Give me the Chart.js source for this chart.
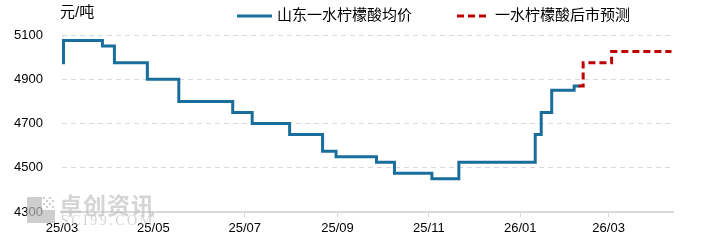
<!DOCTYPE html>
<html><head><meta charset="utf-8">
<script src="https://cdn.jsdelivr.net/npm/chart.js@4.4.1/dist/chart.umd.min.js"></script>
<style>html,body{margin:0;padding:0;background:#fff;}#wrap{width:701px;height:251px;position:relative;}</style>
</head><body><div id="wrap"><canvas id="c" width="701" height="251"></canvas></div>
<script>
// ---- data ----
const baseDate = '2025-03-01';
const xEndDate = '2026-04-13';
const tickDates = ['2025-03-01','2025-05-01','2025-07-01','2025-09-01','2025-11-01','2026-01-01','2026-03-01'];
const tickLabels = ['25/03','25/05','25/07','25/09','25/11','26/01','26/03'];
const seriesNames = ['山东一水柠檬酸均价','一水柠檬酸后市预测'];
const yUnit = '元/吨';
const priceDates = ['2025-03-01','2025-03-02','2025-03-28','2025-04-05','2025-04-27','2025-05-18','2025-06-23','2025-07-06','2025-07-31','2025-08-22','2025-08-31','2025-09-27','2025-10-09','2025-11-03','2025-11-21','2026-01-11','2026-01-15','2026-01-22','2026-02-06','2026-02-10'];
const priceValues = [4975,5075,5050,4975,4900,4800,4750,4700,4650,4575,4550,4525,4475,4450,4525,4650,4750,4850,4870,4870];
const forecastDates = ['2026-02-09','2026-02-12','2026-03-03','2026-04-12'];
const forecastValues = [4870,4975,5025,5025];
const watermarkCn = '卓创资讯';
const watermarkEn = 'SCI99.COM';

const FAMILY = '"Liberation Sans", "Noto Sans CJK SC", sans-serif';
const dayOf = d => (Date.parse(d) - Date.parse(baseDate)) / 86400000;
const toPts = (ds, vs) => ds.map((d, i) => ({x: dayOf(d), y: vs[i]}));
const COLORS = ['#1a6e9b', '#c00000'];

const overlay = {
  id: 'overlay',
  afterDraw(chart) {
    const c = chart.ctx;
    c.save();
    // watermark
    c.fillStyle = 'rgba(185,185,185,0.7)';
    c.fillRect(27, 197, 15, 26);
    c.fillRect(42, 210, 13, 13);
    for (let i = 0; i < 4; i++) for (let j = 0; j < 4; j++) {
      if ((i + j) % 2 === 0) c.fillRect(43 + i * 3, 197 + j * 3, 2, 2);
    }
    c.fillStyle = 'rgba(190,190,190,0.65)';
    c.textBaseline = 'alphabetic';
    c.textAlign = 'left';
    c.font = 'bold 23px "Noto Sans CJK SC", sans-serif';
    c.letterSpacing = '1px';
    c.fillText(watermarkCn, 59, 214);
    c.font = '14px "Liberation Serif", serif';
    c.letterSpacing = '2.5px';
    c.fillText(watermarkEn, 61, 225);
    c.letterSpacing = '0px';
    // unit label
    c.fillStyle = '#000';
    c.textBaseline = 'middle';
    c.font = '15px ' + FAMILY;
    c.fillText(yUnit, 60, 13);
    // legend
    const items = [{x0: 237, x1: 272, tx: 277}, {x0: 457, x1: 488, tx: 495}];
    const ly = 16;
    chart.data.datasets.forEach((ds, i) => {
      const it = items[i];
      c.beginPath();
      c.strokeStyle = ds.borderColor;
      c.lineWidth = 3;
      c.setLineDash(ds.borderDash || []);
      c.moveTo(it.x0, ly); c.lineTo(it.x1, ly);
      c.stroke();
      c.setLineDash([]);
      c.fillStyle = '#000';
      c.fillText(ds.label, it.tx, ly);
    });
    c.restore();
  }
};

new Chart(document.getElementById('c'), {
  type: 'line',
  data: {
    datasets: [
      {label: seriesNames[0], data: toPts(priceDates, priceValues), borderColor: COLORS[0], borderWidth: 3,
       stepped: 'before', pointRadius: 0, fill: false, order: 1},
      {label: seriesNames[1], data: toPts(forecastDates, forecastValues), borderColor: COLORS[1], borderWidth: 3,
       borderDash: [7, 4], stepped: 'before', pointRadius: 0, fill: false, order: 0}
    ]
  },
  options: {
    responsive: false, animation: false, devicePixelRatio: 1,
    layout: {padding: {top: 35, right: 28, left: 0, bottom: 0}},
    plugins: {legend: {display: false}, tooltip: {enabled: false}},
    scales: {
      x: {
        type: 'linear', min: 0, max: dayOf(xEndDate),
        afterBuildTicks: s => { s.ticks = tickDates.map(d => ({value: dayOf(d)})); },
        afterFit: s => { s.height = 39; },
        ticks: {callback: (v, i) => tickLabels[i], color: '#000', font: {size: 13, family: FAMILY}, padding: 4, maxRotation: 0, autoSkip: false},
        grid: {drawOnChartArea: false, drawTicks: true, tickLength: 5, color: '#d9d9d9'},
        border: {display: true, color: '#d9d9d9', width: 2}
      },
      y: {
        min: 4300, max: 5100,
        afterFit: s => { s.width = 62; },
        ticks: {stepSize: 200, callback: v => String(v), color: '#000', font: {size: 13, family: FAMILY}, padding: 19},
        grid: {color: '#d9d9d9', drawTicks: false, lineWidth: 1},
        border: {display: false, dash: [5, 4]}
      }
    }
  },
  plugins: [overlay]
});
</script></body></html>
